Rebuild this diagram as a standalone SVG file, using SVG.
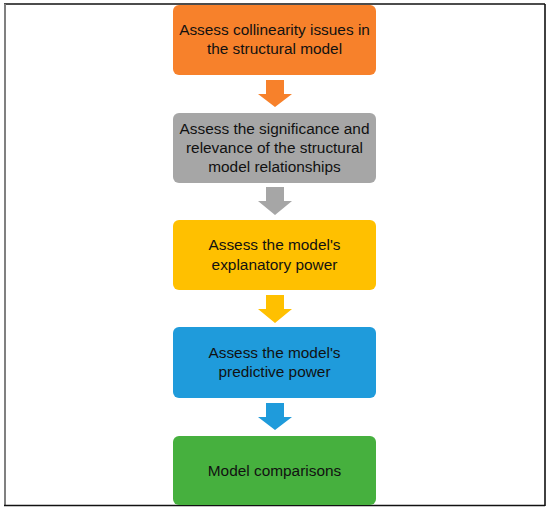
<svg xmlns="http://www.w3.org/2000/svg" width="550" height="513" viewBox="0 0 550 513">
<style>
.t{font-family:"Liberation Sans",Arial,sans-serif;font-size:15.4px;fill:#111111;text-anchor:middle}
.b{stroke:none}
</style>
<rect x="0" y="0" width="550" height="513" fill="#ffffff"/>
<g id="frame">
<line x1="4" y1="4" x2="545" y2="4" stroke="#111" stroke-width="1.6"/>
<line x1="5" y1="4" x2="5" y2="506" stroke="#808080" stroke-width="2"/>
<line x1="545" y1="4" x2="545" y2="506" stroke="#111" stroke-width="1.6"/>
<line x1="4" y1="505.5" x2="545" y2="505.5" stroke="#111" stroke-width="1.6"/>
</g>
<g id="connectors">
<path d="M266 80H284V94H292L275 107L258 94H266Z" fill="#F7812B"/>
<path d="M266 187H284V201H292L275 215L258 201H266Z" fill="#A6A6A6"/>
<path d="M266 295H284V309H292L275 323L258 309H266Z" fill="#FFC000"/>
<path d="M266 403H284V417H292L275 430L258 417H266Z" fill="#1F9BDB"/>
</g>
<g id="n1">
<rect class="b" x="173" y="5" width="203" height="70" rx="6" fill="#F7812B"/>
<text class="t" x="274.5" y="35">Assess collinearity issues in</text>
<text class="t" x="274.5" y="54">the structural model</text>
</g>
<g id="n2">
<rect class="b" x="173" y="113" width="203" height="70" rx="6" fill="#A6A6A6"/>
<text class="t" x="274.5" y="134">Assess the significance and</text>
<text class="t" x="274.5" y="153">relevance of the structural</text>
<text class="t" x="274.5" y="172">model relationships</text>
</g>
<g id="n3">
<rect class="b" x="173" y="220" width="203" height="70" rx="6" fill="#FFC000"/>
<text class="t" x="274.5" y="250">Assess the model's</text>
<text class="t" x="274.5" y="270">explanatory power</text>
</g>
<g id="n4">
<rect class="b" x="173" y="327" width="203" height="71" rx="6" fill="#1F9BDB"/>
<text class="t" x="274.5" y="358">Assess the model's</text>
<text class="t" x="274.5" y="377">predictive power</text>
</g>
<g id="n5">
<rect class="b" x="173" y="436" width="203" height="69" rx="6" fill="#46B03E"/>
<text class="t" x="274.5" y="476">Model comparisons</text>
</g>
</svg>
